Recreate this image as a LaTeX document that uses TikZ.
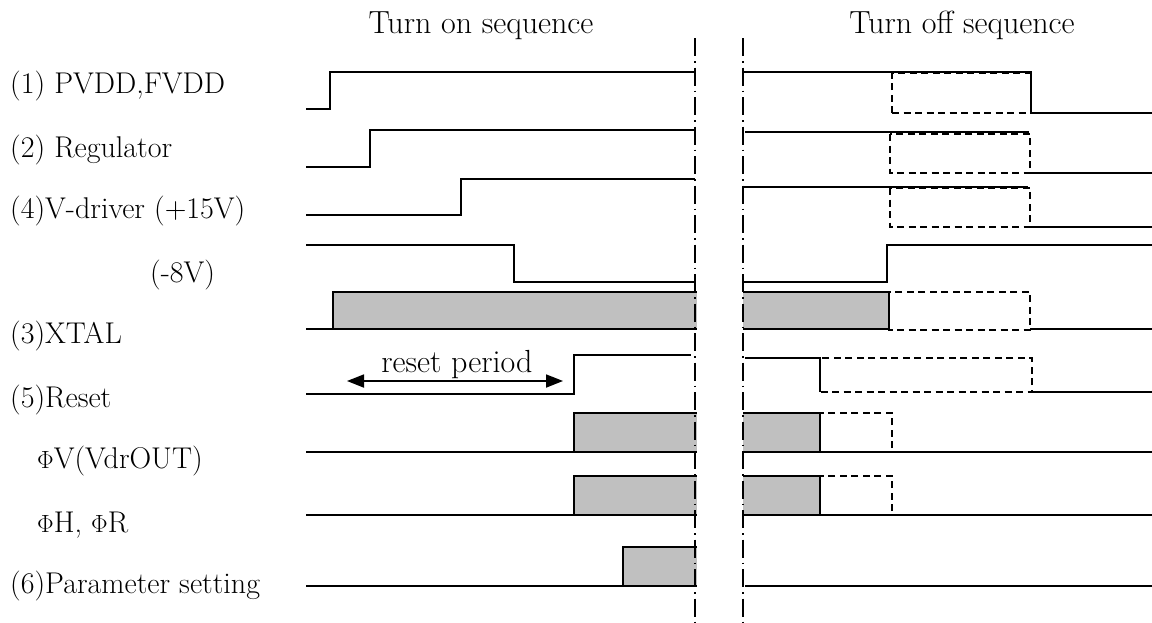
\documentclass[tikz,border=0pt]{standalone}
\usetikzlibrary{arrows.meta}
\definecolor{boxgray}{RGB}{192,192,192}
\begin{document}
\begin{tikzpicture}[x=1pt,y=-1pt,
  sig/.style={line width=1.8pt, line join=miter},
  ghost/.style={line width=1.7pt, dash pattern=on 7pt off 4.5pt},
  busy/.style={fill=boxgray, draw=none},
  divider/.style={line width=2pt, dash pattern=on 18pt off 5pt on 1.5pt off 5pt},
  lbl/.style={font=\fontsize{30}{34}\selectfont, inner sep=0pt, anchor=base west},
  ttl/.style={font=\fontsize{32}{36}\selectfont, inner sep=0pt, anchor=base}]
\useasboundingbox (0,0) rectangle (1152,622);

% titles
\node[ttl] (ton)  at (481,33) {Turn on sequence};
\node[ttl] (toff) at (962,33) {Turn off sequence};

% signal names
\node[lbl] (l1) at (10,93)  {(1) PVDD,FVDD};
\node[lbl] (l2) at (10,157) {(2) Regulator};
\node[lbl] (l3) at (10,218) {(4)V-driver (+15V)};
\node[lbl] (l4) at (150,282) {(-8V)};
\node[lbl] (l5) at (10,343) {(3)XTAL};
\node[lbl] (l6) at (10,407) {(5)Reset};
\node[lbl] (l7) at (37,468) {$\Phi$V(VdrOUT)};
\node[lbl] (l8) at (37,532) {$\Phi$H, $\Phi$R};
\node[lbl] (l9) at (10,593) {(6)Parameter setting};

% ---------- turn on side ----------
\draw[sig] (306,109) -- (330,109) -- (330,72) -- (695,72);
\draw[sig] (306,167) -- (370,167) -- (370,130) -- (695,130);
\draw[sig] (306,215) -- (461,215) -- (461,179) -- (695,179);
\draw[sig] (306,245) -- (514,245) -- (514,282) -- (695,282);
% XTAL
\fill[busy] (333,292) rectangle (697,329);
\draw[sig] (306,329) -- (333,329) -- (333,292) -- (697,292);
\draw[sig] (333,329) -- (697,329);
% Reset
\draw[sig] (306,394) -- (574,394) -- (574,355) -- (691,355);
\draw[{Triangle[length=17pt,width=13pt]}-{Triangle[length=17pt,width=13pt]}, line width=1.8pt]
  (347,381) -- (563,381);
\node[ttl] (rp) at (457,372) {reset period};
% PhiV
\fill[busy] (574,413) rectangle (697,452);
\draw[sig] (306,452) -- (697,452);
\draw[sig] (574,452) -- (574,413) -- (697,413);
% PhiH, PhiR
\fill[busy] (574,476) rectangle (697,515);
\draw[sig] (306,515) -- (697,515);
\draw[sig] (574,515) -- (574,476) -- (697,476);
% Parameter setting
\fill[busy] (623,547) rectangle (697,586);
\draw[sig] (306,586) -- (697,586);
\draw[sig] (623,586) -- (623,547) -- (697,547);

% ---------- turn off side ----------
% PVDD, FVDD
\draw[ghost] (892,113) -- (892,73) -- (1031,73);
\draw[ghost] (892,113) -- (1031,113);
\draw[sig] (743,72) -- (1031,72) -- (1031,113) -- (1152,113);
% Regulator
\draw[ghost] (890,134) rectangle (1030,173);
\draw[sig] (745,132) -- (1029,132);
\draw[sig] (1030,173) -- (1152,173);
% V-driver +15V
\draw[ghost] (890,188) rectangle (1030,227);
\draw[sig] (743,187) -- (1028,187);
\draw[sig] (1030,227) -- (1152,227);
% V-driver -8V
\draw[sig] (743,282) -- (887,282) -- (887,245) -- (1152,245);
% XTAL
\fill[busy] (743,292) rectangle (889,329);
\draw[ghost] (889,292) rectangle (1030,330);
\draw[sig] (743,292) -- (889,292) -- (889,329) -- (743,329);
\draw[sig] (1030,329) -- (1152,329);
% Reset
\draw[ghost] (820,358) rectangle (1032,392);
\draw[sig] (745,358) -- (820,358) -- (820,392);
\draw[sig] (1032,392) -- (1152,392);
% PhiV
\fill[busy] (743,413) rectangle (820,452);
\draw[ghost] (820,413) rectangle (892,452);
\draw[sig] (743,413) -- (820,413) -- (820,452);
\draw[sig] (743,452) -- (1152,452);
% PhiH, PhiR
\fill[busy] (743,476) rectangle (820,515);
\draw[ghost] (820,476) rectangle (892,515);
\draw[sig] (743,476) -- (820,476) -- (820,515);
\draw[sig] (743,515) -- (1152,515);
% Parameter setting
\draw[sig] (745,586) -- (1152,586);

% sequence dividers
\draw[divider] (695,38) -- (695,622);
\draw[divider] (743,38) -- (743,622);
\end{tikzpicture}
\end{document}
